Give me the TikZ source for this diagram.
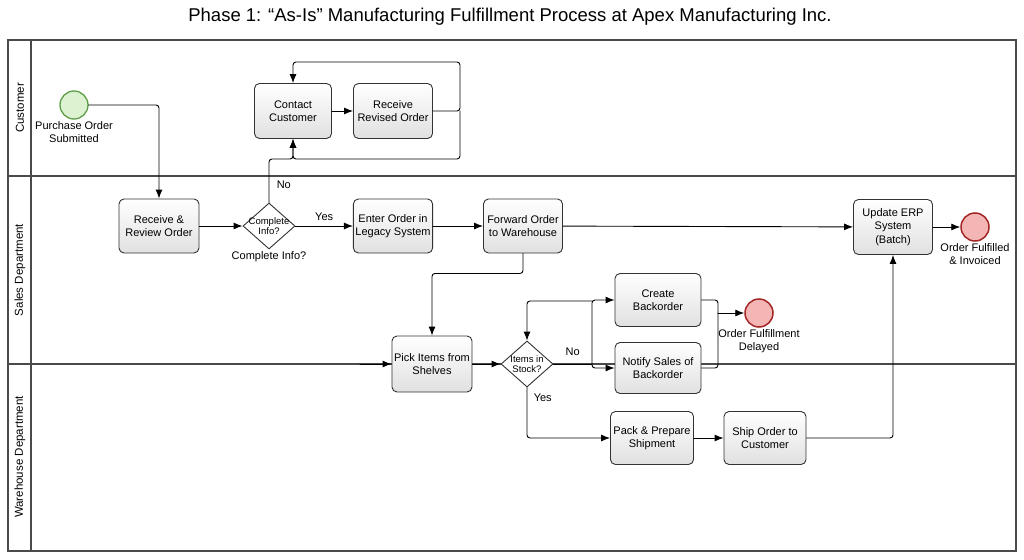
\documentclass[tikz,border=0pt]{standalone}
\usepackage{fontspec}
\setmainfont{Liberation Sans}
\usetikzlibrary{arrows.meta,shapes.geometric}

\definecolor{startfill}{HTML}{DDF2D1}
\definecolor{startdraw}{HTML}{5E9E48}
\definecolor{endfill}{HTML}{F4B5B5}
\definecolor{enddraw}{HTML}{A32626}
\definecolor{lanegray}{HTML}{4A4A4A}

\begin{document}
\begin{tikzpicture}[x=1pt,y=-1pt,line cap=round,
  task/.style={draw=black!80,line width=.9pt,rounded corners=5pt,
    top color=white,bottom color=black!12,minimum width=#1,
    minimum height=54pt,inner sep=2pt,align=center,
    font=\fontsize{11}{13.5}\selectfont},
  task/.default=80pt,
  gate/.style={diamond,draw=black!80,line width=.9pt,fill=white,
    minimum width=52pt,minimum height=46pt,inner sep=0pt},
  gtext/.style={align=center,font=\fontsize{9.5}{10.5}\selectfont,inner sep=0pt},
  startev/.style={circle,draw=startdraw,line width=1.3pt,fill=startfill,
    minimum size=28pt,inner sep=0pt},
  endev/.style={circle,draw=enddraw,line width=1.5pt,fill=endfill,
    minimum size=28pt,inner sep=0pt},
  evtext/.style={align=center,font=\fontsize{11}{13}\selectfont,inner sep=2pt},
  flow/.style={line width=.9pt,rounded corners=3pt,-{Latex[length=9pt,width=7pt]}},
  lane/.style={lanegray,line width=1.4pt},
  lanename/.style={rotate=90,font=\fontsize{11.5}{13}\selectfont}]

  \useasboundingbox (0,0) rectangle (1024,559);
  \node[font=\fontsize{18.5}{22}\selectfont] (title) at (510,17)
    {Phase 1: “As-Is” Manufacturing Fulfillment Process at Apex Manufacturing Inc.};

  \draw[lane] (8,40) rectangle (1016,551);
  \draw[lane] (31,40) -- (31,551);
  \draw[lane] (8,176) -- (1016,176);
  \draw[lane] (8,364) -- (1016,364);
  \node[lanename] (lcust) at (20,108) {Customer};
  \node[lanename] (lsales) at (20,270) {Sales Department};
  \node[lanename] (lware) at (20,457) {Warehouse Department};

  \node[startev,label={[evtext]below:Purchase Order\\Submitted}] (start) at (74,105) {};
  \node[task=77pt,minimum height=55pt] (contact) at (293,111) {Contact\\Customer};
  \node[task=79pt,minimum height=55pt] (revised) at (393,111) {Receive\\Revised Order};

  \node[task] (review) at (159,226) {Receive \&\\Review Order};
  \node[gate,label={[gtext]center:Complete\\Info?},
    label={[evtext]below:Complete Info?}] (info) at (269,226) {};
  \node[task=79pt] (legacy) at (393,226) {Enter Order in\\Legacy System};
  \node[task=79pt] (forward) at (523,226) {Forward Order\\to Warehouse};
  \node[task=79pt,minimum height=55pt] (erp) at (893,227) {Update ERP\\System\\(Batch)};
  \node[endev,label={[evtext]below:Order Fulfilled\\\& Invoiced}] (done) at (975,227) {};

  \node[task,minimum height=56pt] (pick) at (432,364) {Pick Items from\\Shelves};
  \node[gate,label={[gtext]center:Items in\\Stock?}] (stock) at (527,364) {};
  \node[task=86pt,minimum height=53pt] (create) at (658,300) {Create\\Backorder};
  \node[task=86pt,minimum height=51pt] (notify) at (658,368) {Notify Sales of\\Backorder};
  \node[endev,label={[evtext]below:Order Fulfillment\\Delayed}] (delayed) at (759,313) {};

  \node[task=83pt,minimum height=53pt] (pack) at (652,438) {Pack \& Prepare\\Shipment};
  \node[task=82pt,minimum height=53pt] (ship) at (765,438) {Ship Order to\\Customer};

  \coordinate (loopr) at (460,111);
  \coordinate (loopt) at (293,62);
  \coordinate (loopb) at (293,159);
  \coordinate (pin) at (360,364);
  \coordinate (nosplit) at (592,364);
  \coordinate (noup) at (592,301);
  \coordinate (dj) at (718,313);

  \draw[flow] (start) -| (review);
  \draw[flow] (review) -- (info);
  \draw[flow] (info) -- node[above=2pt,font=\fontsize{11}{13}\selectfont] {Yes} (legacy);
  \draw[flow] (info.north) |- node[pos=.2,right=4pt,font=\fontsize{11}{13}\selectfont] {No} (loopb) -- (contact);
  \draw[flow] (contact) -- (revised);
  \draw[flow] (revised) -- (loopr) |- (loopt) -- (contact);
  \draw[flow] (loopr) |- (loopb) -- (contact);
  \draw[flow] (legacy) -- (forward);
  \draw[flow] (forward) -- (erp);
  \draw[flow] (erp) -- (done);
  \draw[flow] (forward.south) -- ++(0,20) -| (pick);
  \draw[flow] (pin) -- (pick);
  \draw[flow] (pick) -- (stock);
  \draw[line width=.9pt] (stock) -- node[above=5pt,font=\fontsize{11}{13}\selectfont] {No} (nosplit);
  \draw[flow] (nosplit) |- (create);
  \draw[flow] (nosplit) |- (notify);
  \draw[flow] (noup) -| (stock);
  \draw[line width=.9pt,rounded corners=3pt] (create) -| (dj);
  \draw[line width=.9pt,rounded corners=3pt] (notify) -| (dj);
  \draw[flow] (dj) -- (delayed);
  \draw[flow] (stock) |- node[pos=.1,right=3pt,font=\fontsize{11}{13}\selectfont] {Yes} (pack);
  \draw[flow] (pack) -- (ship);
  \draw[flow] (ship) -| (erp);
\end{tikzpicture}
\end{document}
